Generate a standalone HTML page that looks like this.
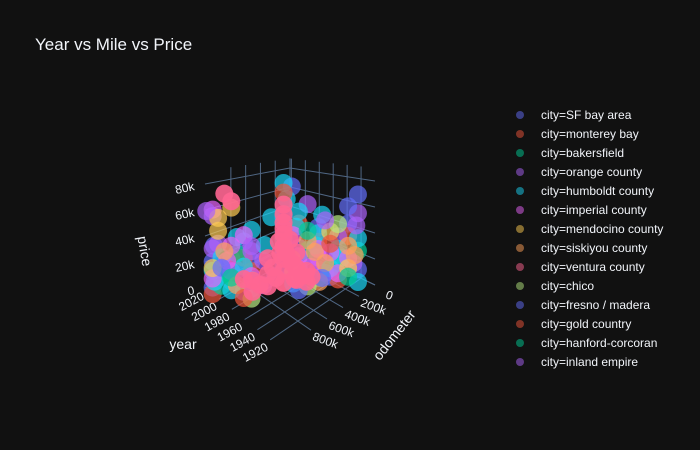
<!DOCTYPE html>
<html><head><meta charset="utf-8"><style>
html,body{margin:0;padding:0;background:#111111;}
svg{display:block;font-family:"Liberation Sans",sans-serif;}
</style></head><body>
<svg id="chart" width="700" height="450" viewBox="0 0 700 450">
<rect width="700" height="450" fill="#111111"/>
<text x="35" y="50" fill="#f2f5fa" font-size="17">Year vs Mile vs Price</text>
<g id="scene"></g>
<g id="legend"></g>
</svg>
<script>
const cities = ["SF bay area","monterey bay","bakersfield","orange county","humboldt county","imperial county","mendocino county","siskiyou county","ventura county","chico","fresno / madera","gold country","hanford-corcoran","inland empire"];
const colors = ["#636efa","#EF553B","#00cc96","#ab63fa","#19d3f3","#e763fa","#FECB52","#FFA15A","#FF6692","#B6E880","#636efa","#EF553B","#00cc96","#ab63fa"];
const yearTicks = [1920,1940,1960,1980,2000,2020];
const odoTicks = [0,200000,400000,600000,800000];
const priceTicks = [0,20000,40000,60000,80000];
// each point: [year, odometer, price]
const sfBay = [[2010,1150000,5000],[2010,1150000,25000],[1995,1030000,12000],[1979,900000,8000],[1979,900000,30000],[1968,575000,20000],[1955,490000,10000],[1955,490000,35000],[1943,345000,15000],[1930,205000,25000],[1918,57000,70000],[1918,57000,10000],[1968,575000,60000],[1985,950000,45000],[1943,345000,50000],[2002,1100000,15000],[1962,520000,85000],[1990,1000000,22000],[1948,400000,28000],[1935,260000,8000],[1972,650000,12000],[2008,1150000,38000],[1925,120000,48000]];
const montereyBay = [[2010,1150000,0],[1995,1030000,30000],[1968,575000,5000],[1943,345000,38000],[1930,205000,5000],[1979,900000,22000],[1955,490000,55000],[1925,120000,38000],[1985,950000,32000],[1940,320000,22000]];
const bakersfield = [[2002,1100000,8000],[1979,900000,15000],[1955,490000,22000],[1930,205000,18000],[1943,345000,8000],[1968,575000,42000],[1990,1000000,35000],[1918,57000,25000],[1950,420000,32000],[1998,1050000,18000]];
const orangeCounty = [[2010,1150000,60000],[1995,1030000,20000],[1979,900000,38000],[1968,575000,28000],[1955,490000,18000],[1943,345000,25000],[1930,205000,40000],[1918,57000,55000],[1985,950000,5000],[1950,420000,70000],[2005,1120000,40000],[1962,520000,12000],[1938,300000,12000],[1975,780000,28000],[2010,1150000,35000],[1922,80000,15000]];
const humboldtCounty = [[2010,1150000,18000],[1995,1030000,5000],[1979,900000,55000],[1968,575000,88000],[1965,560000,75000],[1955,490000,65000],[1943,345000,45000],[1930,205000,30000],[1918,57000,0],[1918,57000,35000],[1985,950000,25000],[1960,520000,5000],[1940,320000,60000],[1972,700000,62000],[2002,1100000,30000],[1935,260000,15000],[1958,500000,52000],[1945,360000,35000],[1990,1000000,48000],[1975,760000,40000],[1928,180000,22000],[2008,1140000,10000]];
const imperialCounty = [[2010,1150000,65000],[2010,1150000,12000],[1995,1030000,40000],[1979,900000,18000],[1968,575000,35000],[1955,490000,28000],[1943,345000,32000],[1930,205000,10000],[1985,950000,50000],[1948,400000,18000],[1975,780000,8000],[1925,120000,20000],[1998,1060000,28000],[1960,520000,45000],[1935,260000,28000]];
const mendocinoCounty = [[2005,1120000,50000],[2005,1120000,60000],[1995,1030000,70000],[2010,1150000,20000],[1960,520000,15000],[1935,260000,45000],[1925,120000,12000]];
const siskiyouCounty = [[2000,1080000,35000],[1990,1000000,10000],[1962,520000,25000],[1945,370000,30000],[1938,300000,20000],[1920,80000,22000],[1925,120000,30000],[1950,420000,40000],[1942,340000,5000]];
const venturaCounty = [[1968,575000,5000],[1968,575000,15000],[1968,575000,25000],[1968,575000,35000],[1968,575000,45000],[1968,575000,55000],[1968,575000,62000],[1968,575000,70000],[1975,720000,5000],[1975,720000,15000],[1975,720000,28000],[1962,460000,5000],[1962,460000,15000],[1962,460000,28000],[1982,860000,3000],[1982,860000,12000],[1955,390000,3000],[1955,390000,12000],[1970,620000,40000],[1965,520000,40000],[1972,640000,10000],[1960,500000,8000],[1978,800000,8000],[1958,420000,8000],[1972,680000,20000],[1964,500000,20000],[1968,575000,50000],[1966,560000,30000],[1970,600000,30000],[2000,1080000,80000],[1995,1030000,75000],[1985,950000,15000],[1950,370000,8000]];
const chico = [[1979,900000,0],[1950,420000,2000],[1930,205000,50000]];
const fresnoMadera = [[2002,1100000,22000],[1955,490000,0],[1925,120000,62000],[1940,320000,8000]];
const goldCountry = [[1985,950000,0],[1935,260000,35000],[1968,575000,80000]];
const hanfordCorcoran = [[1995,1030000,15000],[1950,420000,48000],[1925,120000,5000]];
const inlandEmpire = [[2020,1150000,60000],[1979,900000,42000],[1938,300000,55000],[1920,60000,45000]];
const series = [sfBay,montereyBay,bakersfield,orangeCounty,humboldtCounty,imperialCounty,mendocinoCounty,siskiyouCounty,venturaCounty,chico,fresnoMadera,goldCountry,hanfordCorcoran,inlandEmpire];
const B=[290,244], L=[205,288], R=[375,285], K=[-7,21];
const YMAX=2022, YR=122, OMAX=1150000;
function proj(year, odo, price){
  const t=(YMAX-year)/YR, u=odo/OMAX;
  const d=1-(1-u)*(1-t);
  const s=(0.95+0.35*d)/1000;
  return [B[0]+u*(L[0]-B[0])+t*(R[0]-B[0])+u*t*K[0], B[1]+u*(L[1]-B[1])+t*(R[1]-B[1])+u*t*K[1]-price*s];
}
const NS="http://www.w3.org/2000/svg";
const scene=document.getElementById('scene');
function line(p,q,name){
  const l=document.createElementNS(NS,'line');
  l.setAttribute('x1',p[0]);l.setAttribute('y1',p[1]);l.setAttribute('x2',q[0]);l.setAttribute('y2',q[1]);
  l.setAttribute('stroke','#506784');l.setAttribute('stroke-width','1');
  
  
  scene.appendChild(l);
}
function text(x,y,s,name,extra){
  const e=document.createElementNS(NS,'text');
  e.setAttribute('x',x);e.setAttribute('y',y);e.setAttribute('fill','#f2f5fa');e.setAttribute('font-size','12');
  if(extra) for(const k in extra) e.setAttribute(k,extra[k]);
  e.textContent=s;
  
  
  scene.appendChild(e);
}
const PMAX=90000, YMIN=YMAX-YR;
yearTicks.forEach(y=>line(proj(y,0,0),proj(y,OMAX,0),'floor-grid-year'));
odoTicks.forEach(o=>line(proj(YMAX,o,0),proj(YMIN,o,0),'floor-grid-odometer'));
priceTicks.forEach(p=>{line(proj(YMAX,OMAX,p),proj(YMAX,0,p),'wall-grid-price');line(proj(YMAX,0,p),proj(YMIN,0,p),'wall-grid-price');});
odoTicks.forEach(o=>line(proj(YMAX,o,0),proj(YMAX,o,PMAX),'wall-grid-odometer'));
yearTicks.forEach(y=>line(proj(y,0,0),proj(y,0,PMAX),'wall-grid-year'));
yearTicks.forEach(y=>{const p=proj(y,OMAX,0);const x=p[0]-13,yy=p[1]+16;text(x,yy,String(y),'year-tick-label',{'text-anchor':'middle','transform':`rotate(-28 ${x} ${yy})`});});
odoTicks.forEach(o=>{const p=proj(YMIN,o,0);const x=p[0]+13,yy=p[1]+14;text(x,yy,o===0?'0':(o/1000)+'k','odometer-tick-label',{'text-anchor':'middle','transform':`rotate(20 ${x} ${yy})`});});
priceTicks.forEach(v=>{const p=proj(YMAX,OMAX,v);text(p[0]-10,p[1]+6,v===0?'0':(v/1000)+'k','price-tick-label',{'text-anchor':'end','transform':`rotate(-12 ${p[0]-10} ${p[1]+6})`});});
text(140,252,'price','price-axis-title',{'font-size':'14','transform':'rotate(80 140 252)','text-anchor':'middle'});
text(183,349,'year','year-axis-title',{'font-size':'14','text-anchor':'middle'});
text(398,338,'odometer','odometer-axis-title',{'font-size':'14','text-anchor':'middle','transform':'rotate(-52 398 338)'});
const order=[0,1,2,3,4,5,6,7,9,10,11,12,13,8];
order.forEach(i=>{
  const pts=series[i];
  const g=document.createElementNS(NS,'g');
  
  
  pts.forEach(d=>{
    const p=proj(d[0],d[1],d[2]);
    const c=document.createElementNS(NS,'circle');
    c.setAttribute('cx',p[0]);c.setAttribute('cy',p[1]);c.setAttribute('r',9);
    c.setAttribute('fill',colors[i]);c.setAttribute('fill-opacity',i===8?'0.9':'0.7');
    
    
    g.appendChild(c);
  });
  scene.appendChild(g);
});
const lg=document.getElementById('legend');
cities.forEach((c,i)=>{
  const y=115+i*19;
  const g=document.createElementNS(NS,'g');
  
  
  const m=document.createElementNS(NS,'circle');
  m.setAttribute('cx',520);m.setAttribute('cy',y);m.setAttribute('r',4);
  m.setAttribute('fill',colors[i]);m.setAttribute('fill-opacity','0.5');
  g.appendChild(m);
  const t=document.createElementNS(NS,'text');
  t.setAttribute('x',541);t.setAttribute('y',y+4);t.setAttribute('fill','#f2f5fa');t.setAttribute('font-size','12');
  t.textContent='city='+c;
  g.appendChild(t);
  lg.appendChild(g);
});
</script>
</body></html>
